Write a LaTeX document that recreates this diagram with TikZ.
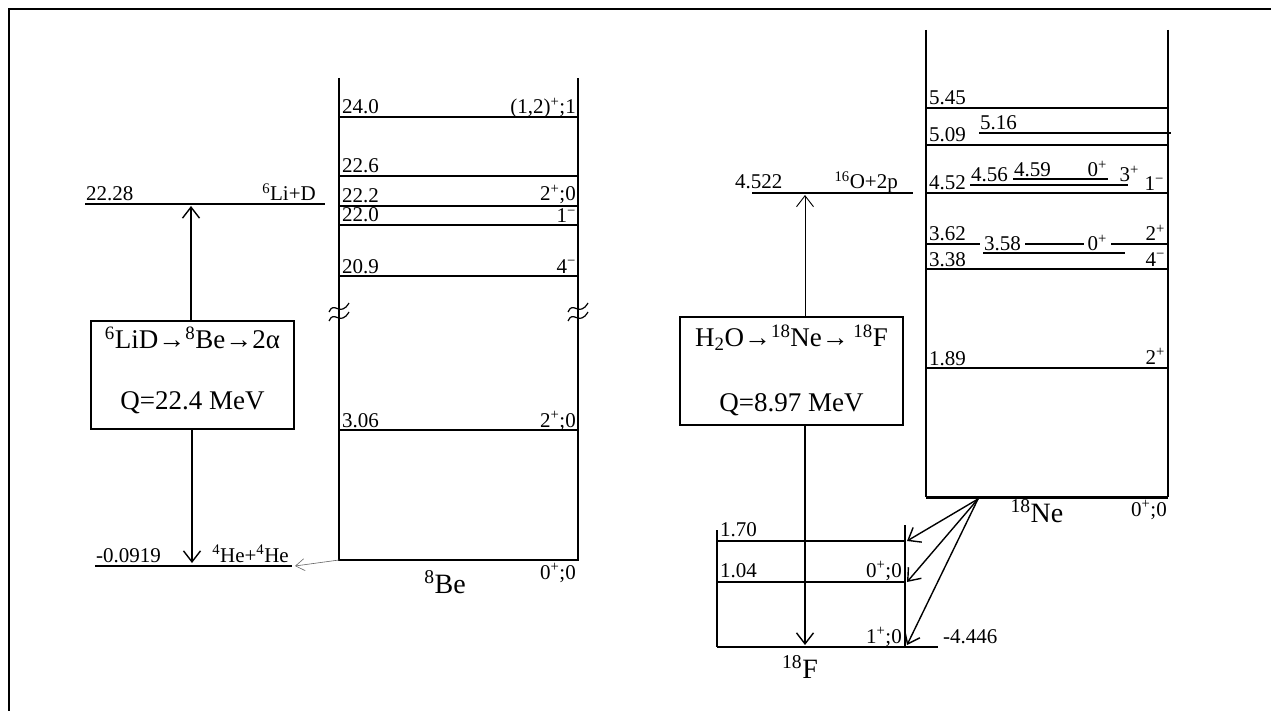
\documentclass[tikz,border=0pt]{standalone}
\usepackage{fontspec}
\setmainfont{Liberation Serif}
\usetikzlibrary{arrows.meta,positioning,calc}
\newcommand{\sups}[1]{\textsuperscript{#1}}
\tikzset{
  level/.style={line width=1.4pt},
  wall/.style={line width=1.6pt},
  energy/.style={font=\fontsize{21}{23}\selectfont,inner sep=0pt,anchor=base west},
  spin/.style={font=\fontsize{21}{23}\selectfont,inner sep=0pt,anchor=base east},
  cover/.style={fill=white,inner xsep=4pt,inner ysep=0pt},
  nucleus/.style={font=\fontsize{28}{30}\selectfont,inner sep=0pt,anchor=base},
  decay/.style={draw,line width=1.4pt,minimum height=108pt,inner sep=0pt},
  boxtext/.style={font=\fontsize{27}{29}\selectfont,inner sep=0pt},
  arrow/.style={-{Straight Barb[length=11pt,width=17pt]},line width=1.4pt},
  thinup/.style={-{Straight Barb[length=11pt,width=17pt]},line width=0.9pt},
  thinarrow/.style={-{Straight Barb[length=9pt,width=12pt]},line width=0.6pt,draw=black!60}
}

\begin{document}
\begin{tikzpicture}[x=1pt,y=-1pt]
  \useasboundingbox (0,0) rectangle (1271,711);
  \draw[line width=1.6pt] (9,711) -- (9,9) -- (1271,9);

  % 8Be levels
  \draw[wall] (339,78) -- (339,560) -- (578,560) -- (578,78);
  \foreach \y/\e [count=\i] in {117/24.0,176/22.6,206/22.2,225/22.0,276/20.9,430/3.06}{
    \draw[level] (339,\y) -- (578,\y);
    \node[energy] (be\i) at (342,\y-3) {\e};
  }
  \foreach \y/\s [count=\i] in {114/{(1,2)\sups{+};1},201/{2\sups{+};0},223/{1\sups{−}},273/{4\sups{−}},427/{2\sups{+};0}}
    \node[spin] (bej\i) at (576,\y) {\s};
  \foreach \x in {339,578}{
    \draw[line width=1.2pt] (\x-10,312) .. controls (\x-5,300) and (\x+1,318) .. (\x+10,303);
    \draw[line width=1.2pt] (\x-10,321) .. controls (\x-5,309) and (\x+1,327) .. (\x+10,312);
  }
  \node[spin] (bej0) at (576,579) {0\sups{+};0};
  \node[nucleus] (be) at (445,593) {\sups{8}Be};

  % 6Li+D side
  \draw[level] (85,204) -- (325,204);
  \node[energy] (li) at (86,201) {22.28};
  \node[spin] (lid) at (316,201) {\sups{6}Li+D};
  \draw[level] (95,566) -- (292,566);
  \node[energy] (he) at (96,562) {-0.0919};
  \node[spin] (hehe) at (289,562) {\sups{4}He+\sups{4}He};
  \node[decay,minimum width=203pt] (lbox) at (192.5,375) {};
  \node[boxtext] (lr) at (192.5,338) {\sups{6}LiD→\sups{8}Be→2α};
  \node[boxtext] (lq) at (192.5,403) {Q=22.4 MeV};
  \coordinate (litop) at (191,206);
  \coordinate (hegs) at (192,563);
  \coordinate (begs) at (339,560);
  \coordinate (hetip) at (295,566);
  \draw[arrow] (litop |- lbox.north) -- (litop);
  \draw[arrow] (hegs |- lbox.south) -- (hegs);
  \draw[thinarrow] (begs) -- (hetip);

  % 18Ne levels
  \draw[wall] (926,30) -- (926,497);
  \draw[wall] (1168,30) -- (1168,497);
  \draw[line width=3pt] (926,497) -- (1168,497);
  \foreach \y/\e [count=\i] in {108/5.45,145/5.09,193/4.52,244/3.62,269/3.38,368/1.89}{
    \draw[level] (926,\y) -- (1168,\y);
    \node[energy] (ne\i) at (929,\y-3) {\e};
  }
  \draw[level] (979,133) -- (1171,133);
  \node[energy] (ne516) at (980,130) {5.16};
  \draw[level] (970,185) -- (1128,185);
  \node[energy] (ne456) at (971,182) {4.56};
  \draw[level] (1013,179) -- (1108,179);
  \node[energy] (ne459) at (1014,177) {4.59};
  \node[spin] (nej459) at (1107,177) {0\sups{+}};
  \node[spin] (nej456) at (1139,182) {3\sups{+}};
  \node[spin] (nej452) at (1164,191) {1\sups{−}};
  \draw[level] (983,253) -- (1125,253);
  \node[energy,cover] (ne358) at (980,251) {3.58};
  \node[spin,cover] (nej358) at (1111,251) {0\sups{+}};
  \node[spin] (nej362) at (1165,241) {2\sups{+}};
  \node[spin] (nej338) at (1165,266) {4\sups{−}};
  \node[spin] (nej189) at (1165,364) {2\sups{+}};
  \node[spin] (nej0) at (1167,516) {0\sups{+};0};
  \node[nucleus] (ne) at (1037,522) {\sups{18}Ne};

  % 18F levels
  \draw[wall] (717,530) -- (717,647);
  \draw[wall] (905,525) -- (905,647);
  \draw[level] (717,541) -- (905,541);
  \node[energy] (f170) at (720,536) {1.70};
  \draw[level] (717,582) -- (905,582);
  \node[energy] (f104) at (720,577) {1.04};
  \node[spin] (fj104) at (902,577) {0\sups{+};0};
  \draw[line width=2.2pt] (717,647) -- (938,647);
  \node[spin] (fj0) at (902,643) {1\sups{+};0};
  \node[energy] (f0) at (943,643) {-4.446};
  \node[nucleus] (f) at (800,678) {\sups{18}F};

  % H2O side
  \draw[level] (752,193) -- (913,193);
  \node[energy] (o) at (735,189) {4.522};
  \node[spin] (o2p) at (898,189) {\sups{16}O+2p};
  \node[decay,minimum width=223pt] (fbox) at (791.5,371) {};
  \node[boxtext] (fr) at (791.5,338) {H\textsubscript{2}O→\sups{18}Ne→\,\sups{18}F};
  \node[boxtext] (fq) at (791.5,405) {Q=8.97 MeV};
  \coordinate (otop) at (805,195);
  \coordinate (fgs) at (805,645);
  \draw[thinup] (otop |- fbox.north) -- (otop);
  \draw[arrow] (fgs |- fbox.south) -- (fgs);
  \coordinate (negs) at (978,499);
  \coordinate (t170) at (907,541);
  \coordinate (t104) at (907,582);
  \coordinate (t0) at (907,645);
  \foreach \t in {t170,t104,t0}
    \draw[arrow] (negs) -- (\t);
\end{tikzpicture}
\end{document}
